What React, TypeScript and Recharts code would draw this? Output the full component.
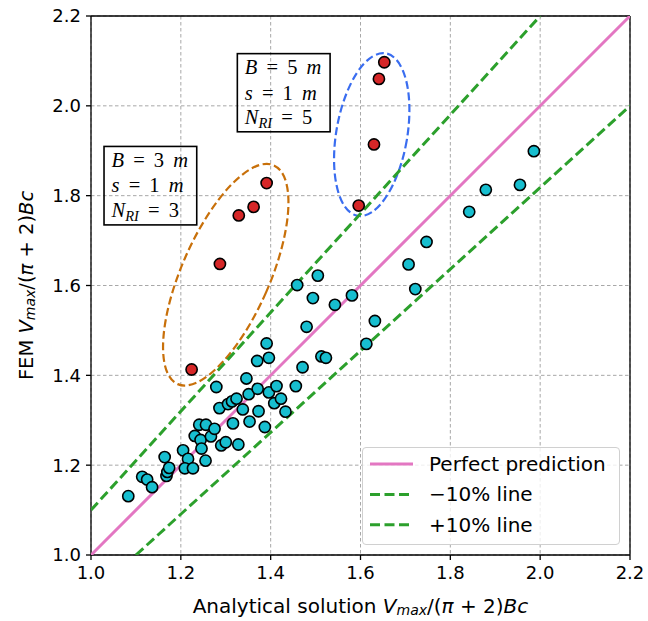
import React from 'react';
import { ComposedChart, Scatter, XAxis, YAxis, CartesianGrid, ReferenceArea, ReferenceLine } from 'recharts';

// ---- data ----
const ticks = [1.0, 1.2, 1.4, 1.6, 1.8, 2.0, 2.2];

const otherX = [1.083, 1.114, 1.125, 1.136, 1.164, 1.168, 1.170, 1.174, 1.205, 1.216, 1.209, 1.227, 1.255, 1.231, 1.241, 1.256, 1.244, 1.246, 1.267, 1.275, 1.290, 1.300, 1.328, 1.316, 1.286, 1.305, 1.314, 1.324, 1.279, 1.338, 1.353, 1.387, 1.373, 1.351, 1.371, 1.396, 1.413, 1.408, 1.423, 1.433, 1.456, 1.346, 1.370, 1.396, 1.391, 1.471, 1.513, 1.523, 1.480, 1.459, 1.505, 1.494, 1.543, 1.581, 1.632, 1.613, 1.707, 1.722, 1.747, 1.842, 1.879, 1.955, 1.986];
const otherY = [1.131, 1.174, 1.168, 1.151, 1.218, 1.176, 1.185, 1.194, 1.233, 1.214, 1.193, 1.193, 1.210, 1.265, 1.290, 1.290, 1.256, 1.237, 1.264, 1.281, 1.244, 1.251, 1.246, 1.293, 1.327, 1.336, 1.342, 1.348, 1.374, 1.324, 1.297, 1.285, 1.320, 1.358, 1.370, 1.362, 1.376, 1.338, 1.348, 1.319, 1.376, 1.393, 1.432, 1.439, 1.471, 1.418, 1.442, 1.439, 1.508, 1.601, 1.622, 1.572, 1.557, 1.578, 1.521, 1.470, 1.647, 1.592, 1.697, 1.764, 1.813, 1.824, 1.899];

const redX = [1.224, 1.287, 1.329, 1.362, 1.391, 1.596, 1.630, 1.641, 1.653];
const redY = [1.413, 1.648, 1.756, 1.775, 1.828, 1.778, 1.914, 2.060, 2.097];

const perfectX = [1.0, 2.2];
const perfectY = [1.0, 2.2];
const minus10X = [1.0, 2.0];
const minus10Y = [1.1, 2.2];
const plus10X = [1.1, 2.2];
const plus10Y = [1.0, 2.0];

// ellipse annotations: center, semi-axes (data units), rotation (deg)
const ellipseOrange = { cx: 1.300, cy: 1.624, a: 0.098, b: 0.266, angle: 23.7 };
const ellipseBlue = { cx: 1.625, cy: 1.936, a: 0.079, b: 0.1835, angle: 9.8 };

// text boxes: corners in data units
const box1 = { x1: 1.029, x2: 1.2354, y1: 1.7349, y2: 1.9096, B: '3', N: '3' };
const box2 = { x1: 1.3258, x2: 1.5323, y1: 1.9422, y2: 2.1162, B: '5', N: '5' };

const zip = (xs: number[], ys: number[]) => xs.map((x, i) => ({ x, y: ys[i] }));
const otherData = zip(otherX, otherY);
const redData = zip(redX, redY);
const perfectData = zip(perfectX, perfectY);
const minus10Data = zip(minus10X, minus10Y);
const plus10Data = zip(plus10X, plus10Y);

const SANS = 'DejaVu Sans';
const SERIF = 'Liberation Serif';

const dot = (fill: string) => (p: any) => (
  <circle cx={p.cx} cy={p.cy} r={5.6} fill={fill} stroke="#000" strokeWidth={1.6} />
);
const noDot = () => <g />;

const ellipseShape = (e: any, color: string) => (p: any) => {
  const cx = p.x + p.width / 2;
  const cy = p.y + p.height / 2;
  return (
    <ellipse
      cx={cx}
      cy={cy}
      rx={p.width / 2}
      ry={p.height / 2}
      fill="none"
      stroke={color}
      strokeWidth={2.2}
      strokeDasharray="8 3.6"
      transform={`rotate(${e.angle} ${cx} ${cy})`}
    />
  );
};

const boxText = { fontFamily: SERIF, fontSize: 20.5, fill: '#000' };
const boxStyle = { whiteSpace: 'pre' as const, wordSpacing: '4px' };

const boxShape = (bx: any) => (p: any) => {
  const tx = p.x + 7.5;
  return (
    <g>
      <rect x={p.x} y={p.y} width={p.width} height={p.height} fill="none" stroke="#000" strokeWidth={1.6} />
      <text x={tx} y={p.y + 20.5} {...boxText} style={boxStyle}>
        <tspan fontStyle="italic">B</tspan> = {bx.B} <tspan fontStyle="italic">m</tspan>
      </text>
      <text x={tx} y={p.y + 46} {...boxText} style={boxStyle}>
        <tspan fontStyle="italic">s</tspan> = 1 <tspan fontStyle="italic">m</tspan>
      </text>
      <text x={tx} y={p.y + 70.5} {...boxText} style={boxStyle}>
        <tspan fontStyle="italic">N</tspan>
        <tspan fontStyle="italic" fontSize={14.5} dy={4}>RI</tspan>
        <tspan dy={-4}> = {bx.N}</tspan>
      </text>
    </g>
  );
};

const XLabel = (props: any) => {
  const vb = props.viewBox || { x: 91, y: 555, width: 539, height: 66 };
  const cx = vb.x + vb.width / 2;
  const cy = vb.y + 51;
  return (
    <text x={cx} y={cy} textAnchor="middle" fontFamily={SANS} fontSize={20} fill="#000" dominantBaseline="central">
      Analytical solution <tspan fontStyle="italic">V</tspan>
      <tspan fontStyle="italic" fontSize={14} dy={4}>max</tspan>
      <tspan dy={-4}>/(</tspan>
      <tspan fontStyle="italic">π</tspan>
      <tspan> + 2)</tspan>
      <tspan fontStyle="italic">Bc</tspan>
    </text>
  );
};

const YLabel = (props: any) => {
  const vb = props.viewBox || { x: 0, y: 16, width: 91, height: 539 };
  const cx = vb.x + 26;
  const cy = vb.y + vb.height / 2;
  return (
    <text x={cx} y={cy} textAnchor="middle" fontFamily={SANS} fontSize={19.5} fill="#000" dominantBaseline="central" transform={`rotate(-90 ${cx} ${cy})`}>
      FEM <tspan fontStyle="italic">V</tspan>
      <tspan fontStyle="italic" fontSize={14} dy={4}>max</tspan>
      <tspan dy={-4}>/(</tspan>
      <tspan fontStyle="italic">π</tspan>
      <tspan> + 2)</tspan>
      <tspan fontStyle="italic">Bc</tspan>
    </text>
  );
};

const legendItems = [
  { label: 'Perfect prediction', color: '#e377c2', dash: undefined },
  { label: '\u221210% line', color: '#2ca02c', dash: '10 4.5' },
  { label: '+10% line', color: '#2ca02c', dash: '10 4.5' },
];

const tickStyle = { fontFamily: SANS, fontSize: 18, fill: '#000' };

export default function App() {
  const W = 648;
  const H = 621;
  return (
    <div style={{ position: 'absolute', left: 0, top: 0, width: W, height: H, background: '#fff' }}>
      <ComposedChart width={W} height={H} margin={{ top: 16, right: 18, bottom: 0, left: 0 }}>
        <CartesianGrid stroke="#a8a8a8" strokeDasharray="3.5 2.5" strokeWidth={1} />
        <XAxis
          type="number"
          dataKey="x"
          domain={[1.0, 2.2]}
          ticks={ticks}
          allowDataOverflow
          tickFormatter={(v: number) => v.toFixed(1)}
          tick={tickStyle}
          tickSize={5}
          tickMargin={6}
          height={66}
          stroke="#000"
          axisLine={{ stroke: '#000', strokeWidth: 1.3 }}
          tickLine={{ stroke: '#000', strokeWidth: 1.3 }}
          label={<XLabel />}
        />
        <YAxis
          type="number"
          dataKey="y"
          domain={[1.0, 2.2]}
          ticks={ticks}
          allowDataOverflow
          tickFormatter={(v: number) => v.toFixed(1)}
          tick={tickStyle}
          tickSize={5}
          tickMargin={5}
          width={91}
          stroke="#000"
          axisLine={{ stroke: '#000', strokeWidth: 1.3 }}
          tickLine={{ stroke: '#000', strokeWidth: 1.3 }}
          label={<YLabel />}
        />
        <ReferenceLine x={2.2} stroke="#000" strokeWidth={1.3} ifOverflow="visible" />
        <ReferenceLine y={2.2} stroke="#000" strokeWidth={1.3} ifOverflow="visible" />
        <Scatter data={perfectData} line={{ stroke: '#e377c2', strokeWidth: 3 }} shape={noDot} isAnimationActive={false} />
        <Scatter data={minus10Data} line={{ stroke: '#2ca02c', strokeWidth: 3, strokeDasharray: '10 4.5' }} shape={noDot} isAnimationActive={false} />
        <Scatter data={plus10Data} line={{ stroke: '#2ca02c', strokeWidth: 3, strokeDasharray: '10 4.5' }} shape={noDot} isAnimationActive={false} />
        <Scatter data={otherData} shape={dot('#17becf')} isAnimationActive={false} />
        <Scatter data={redData} shape={dot('#d62728')} isAnimationActive={false} />
        <ReferenceArea
          x1={ellipseOrange.cx - ellipseOrange.a}
          x2={ellipseOrange.cx + ellipseOrange.a}
          y1={ellipseOrange.cy - ellipseOrange.b}
          y2={ellipseOrange.cy + ellipseOrange.b}
          ifOverflow="visible"
          shape={ellipseShape(ellipseOrange, '#c8700a')}
        />
        <ReferenceArea
          x1={ellipseBlue.cx - ellipseBlue.a}
          x2={ellipseBlue.cx + ellipseBlue.a}
          y1={ellipseBlue.cy - ellipseBlue.b}
          y2={ellipseBlue.cy + ellipseBlue.b}
          ifOverflow="visible"
          shape={ellipseShape(ellipseBlue, '#3a6df0')}
        />
        <ReferenceArea x1={box1.x1} x2={box1.x2} y1={box1.y1} y2={box1.y2} ifOverflow="visible" shape={boxShape(box1)} />
        <ReferenceArea x1={box2.x1} x2={box2.x2} y1={box2.y1} y2={box2.y2} ifOverflow="visible" shape={boxShape(box2)} />
      </ComposedChart>
      <div
        style={{
          position: 'absolute',
          left: 362,
          top: 447,
          width: 258,
          height: 98,
          boxSizing: 'border-box',
          border: '1.3px solid #d0d0d0',
          borderRadius: 4,
          background: 'rgba(255,255,255,0.8)',
        }}
      >
        <svg width={256} height={96} style={{ position: 'absolute', left: 0, top: 0 }}>
          {legendItems.map((it, i) => {
            const cy = 16 + i * 30.4;
            return (
              <g key={it.label}>
                <line x1={7} x2={50} y1={cy} y2={cy} stroke={it.color} strokeWidth={3} strokeDasharray={it.dash} />
                <text x={66} y={cy} dominantBaseline="central" fontFamily={SANS} fontSize={20} fill="#000">
                  {it.label}
                </text>
              </g>
            );
          })}
        </svg>
      </div>
    </div>
  );
}
